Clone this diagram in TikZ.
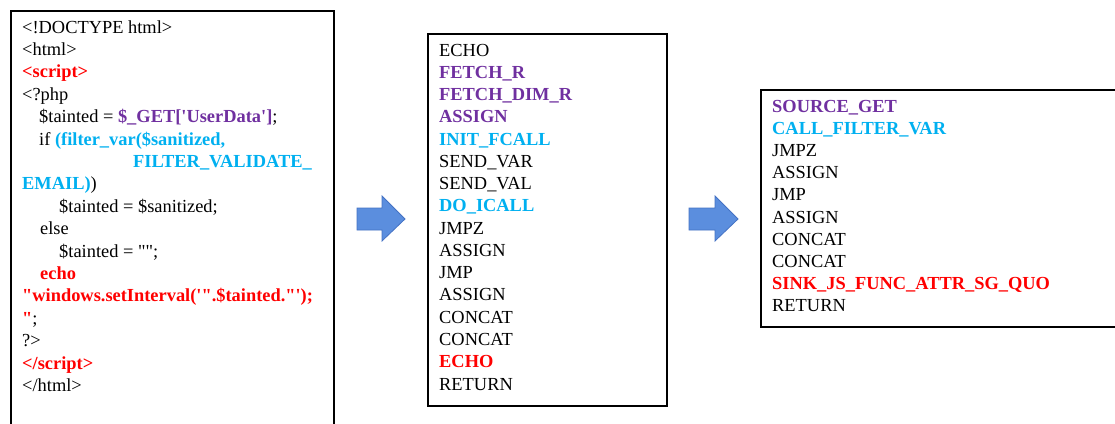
\documentclass[tikz,border=0pt]{standalone}
\usepackage{fontspec}
\newfontfamily\tnr{Liberation Serif}
\definecolor{pur}{RGB}{112,48,160}
\definecolor{cya}{RGB}{0,176,240}
\definecolor{red0}{RGB}{255,0,0}
\definecolor{arrfill}{RGB}{91,142,222}
\definecolor{arrdraw}{RGB}{68,114,196}
\tikzset{
  txt/.style={anchor=base west, inner sep=0pt, font=\tnr\fontsize{18.4}{22}\selectfont, text=black},
  plain/.style={txt},
  pb/.style={txt, text=pur, font=\tnr\fontsize{18.4}{22}\selectfont\bfseries},
  cb/.style={txt, text=cya, font=\tnr\fontsize{18.4}{22}\selectfont\bfseries},
  rb/.style={txt, text=red0, font=\tnr\fontsize{18.4}{22}\selectfont\bfseries},
  box/.style={draw=black, line width=2pt, fill=white, inner sep=0pt, anchor=north west},
  blockarrow/.style={fill=arrfill, draw=arrdraw, line width=0.8pt, line join=miter}
}
\begin{document}
\begin{tikzpicture}[x=1pt,y=-1pt]
\clip (0,0) rectangle (1115,423);
\fill[white] (0,0) rectangle (1115,423);
% boxes
\node[box, minimum width=323pt, minimum height=430pt] (b1) at (10,10) {};
\node[box, minimum width=239pt, minimum height=372pt] (b2) at (427,33) {};
\node[box, minimum width=370pt, minimum height=237pt] (b3) at (760,89) {};
% block arrows
\draw[blockarrow] (357,208) -- (382,208) -- (382,196) -- (405,219) -- (382,241) -- (382,230) -- (357,230) -- cycle;
\draw[blockarrow] (689,208) -- (715,208) -- (715,196) -- (738,219) -- (715,241) -- (715,230) -- (689,230) -- cycle;
% box 1: source code
\node[plain] (s1) at (22,33) {<!DOCTYPE html>};
\node[plain] (s2) at (22,55.4) {<html>};
\node[rb] (s3) at (22,77.8) {<script>};
\node[plain] (s4) at (22,100.2) {<?php};
\node[plain] (s5) at (39,122.6) {\$tainted = \textcolor{pur}{\bfseries\$\_GET['UserData']};};
\node[plain] (s6) at (39,145) {if \textcolor{cya}{\bfseries(filter\_var(\$sanitized,}};
\node[cb] (s7) at (133,167.4) {FILTER\_VALIDATE\_};
\node[plain] (s8) at (22,189.8) {\textcolor{cya}{\bfseries EMAIL)})};
\node[plain] (s9) at (59,212.2) {\$tainted = \$sanitized;};
\node[plain] (s10) at (40,234.6) {else};
\node[plain] (s11) at (59,257) {\$tainted = "";};
\node[rb] (s12) at (40,279.4) {echo};
\node[rb] (s13) at (22,301.8) {"windows.setInterval('".\$tainted."');};
\node[plain] (s14) at (22,324.2) {\textcolor{red0}{\bfseries"};};
\node[plain] (s15) at (22,346.6) {?>};
\node[rb] (s16) at (22,369) {</script>};
\node[plain] (s17) at (22,391.4) {</html>};
% box 2: opcodes
\foreach \s/\t [count=\i] in {plain/ECHO, pb/FETCH\_R, pb/FETCH\_DIM\_R, pb/ASSIGN, cb/INIT\_FCALL, plain/SEND\_VAR, plain/SEND\_VAL, cb/DO\_ICALL, plain/JMPZ, plain/ASSIGN, plain/JMP, plain/ASSIGN, plain/CONCAT, plain/CONCAT, rb/ECHO, plain/RETURN}
  \node[\s] (m\i) at (439,{56+(\i-1)*22.27}) {\t};
% box 3: abstracted
\foreach \s/\t [count=\i] in {pb/SOURCE\_GET, cb/CALL\_FILTER\_VAR, plain/JMPZ, plain/ASSIGN, plain/JMP, plain/ASSIGN, plain/CONCAT, plain/CONCAT, rb/SINK\_JS\_FUNC\_ATTR\_SG\_QUO, plain/RETURN}
  \node[\s] (n\i) at (772,{112+(\i-1)*22.2}) {\t};
\end{tikzpicture}
\end{document}
